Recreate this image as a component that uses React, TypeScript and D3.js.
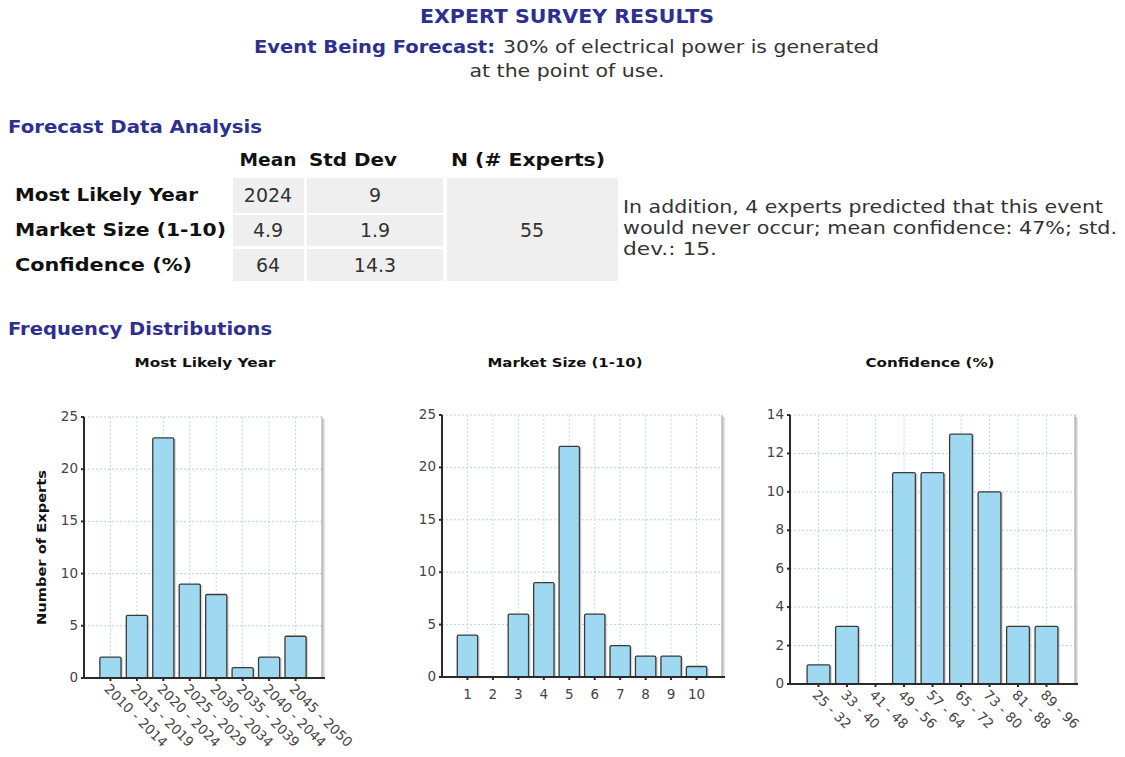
import React from "react";
import * as d3 from "d3";

const yearCats = ["2010 - 2014", "2015 - 2019", "2020 - 2024", "2025 - 2029", "2030 - 2034", "2035 - 2039", "2040 - 2044", "2045 - 2050"];
const yearVals = [2, 6, 23, 9, 8, 1, 2, 4];
const sizeCats = ["1", "2", "3", "4", "5", "6", "7", "8", "9", "10"];
const sizeVals = [4, 0, 6, 9, 22, 6, 3, 2, 2, 1];
const confCats = ["25 - 32", "33 - 40", "41 - 48", "49 - 56", "57 - 64", "65 - 72", "73 - 80", "81 - 88", "89 - 96"];
const confVals = [1, 3, 0, 11, 11, 13, 10, 3, 3];

const rowLabels = ["Most Likely Year", "Market Size (1-10)", "Confidence (%)"];
const means = ["2024", "4.9", "64"];
const stdDevs = ["9", "1.9", "14.3"];
const nExperts = "55";

const BLUE = "#2e2f8f";
const FONT = "'DejaVu Sans', Verdana, sans-serif";

type TProps = {
  x: number; y: number; w?: number; size: number; bold?: boolean; fill: string;
  anchor?: "start" | "middle" | "end"; transform?: string; children: React.ReactNode;
};
function T({ x, y, w, size, bold, fill, anchor = "start", transform, children }: TProps) {
  return (
    <text x={x} y={y} transform={transform} textAnchor={anchor} dominantBaseline="middle" fontFamily={FONT}
      fontWeight={bold ? "bold" : "normal"} fontSize={size} fill={fill}
      {...(w ? { textLength: w, lengthAdjust: "spacingAndGlyphs" } : {})}>
      {children}
    </text>
  );
}

type ChartProps = {
  cats: string[];
  vals: number[];
  x0: number; x1: number; top: number; bottom: number;
  yMax: number; yStep: number;
  rotate: boolean;
  title: string; titleX: number; titleW: number;
  yLabel?: string;
};

function BarChart(p: ChartProps) {
  const x = d3.scalePoint<string>().domain(p.cats).range([p.x0, p.x1]).padding(1);
  const y = d3.scaleLinear().domain([0, p.yMax]).range([p.bottom, p.top]);
  const ticks = d3.range(0, p.yMax + 0.001, p.yStep);
  const bw = x.step() * 0.8;
  return (
    <g>
      <T x={p.titleX} y={363} w={p.titleW} anchor="middle" bold size={13} fill="#111">{p.title}</T>
      {p.yLabel && (
        <T x={0} y={0} w={155} transform={`translate(${p.x0 - 42},${(p.top + p.bottom) / 2}) rotate(-90)`} anchor="middle" bold size={13} fill="#111">{p.yLabel}</T>
      )}
      {ticks.map((t) => (
        <line key={"h" + t} x1={p.x0} x2={p.x1} y1={y(t)} y2={y(t)} stroke="#b9d3e6" strokeWidth={1} strokeDasharray="2,2" />
      ))}
      {p.cats.map((c) => (
        <line key={"v" + c} x1={x(c)} x2={x(c)} y1={p.top} y2={p.bottom} stroke="#c4dbea" strokeWidth={1} strokeDasharray="2,2" />
      ))}
      <line x1={p.x1 + 1.5} x2={p.x1 + 1.5} y1={p.top + 2} y2={p.bottom} stroke="#d0d0d0" strokeWidth={2} />
      <line x1={p.x1} x2={p.x1} y1={p.top} y2={p.bottom} stroke="#999" strokeWidth={1} />
      {p.vals.map((v, i) => v > 0 && (
        <g key={"b" + i}>
          <rect x={(x(p.cats[i]) as number) - bw / 2 + 2} y={y(v) + 1} width={bw} height={p.bottom - y(v)} fill="#bdbdbd" opacity={0.6} />
          <rect x={(x(p.cats[i]) as number) - bw / 2} y={y(v)} width={bw} height={p.bottom - y(v)} rx={1.5} fill="#9fd9f1" stroke="#3a3a3a" strokeWidth={1.3} />
        </g>
      ))}
      <line x1={p.x0} x2={p.x0} y1={p.top} y2={p.bottom + 1} stroke="#2a2a2a" strokeWidth={2} />
      <line x1={p.x0 - 1} x2={p.x1 + 3} y1={p.bottom} y2={p.bottom} stroke="#2a2a2a" strokeWidth={2} />
      {ticks.map((t) => (
        <g key={"yt" + t}>
          <line x1={p.x0 - 3} x2={p.x0} y1={y(t)} y2={y(t)} stroke="#2a2a2a" strokeWidth={2} />
          <T x={p.x0 - 6} y={y(t)} anchor="end" size={13.5} fill="#444">{t}</T>
        </g>
      ))}
      {p.cats.map((c) => (
        <g key={"xt" + c}>
          <line x1={x(c)} x2={x(c)} y1={p.bottom} y2={p.bottom + 3} stroke="#2a2a2a" strokeWidth={2} />
          {p.rotate ? (
            <T x={0} y={0} transform={`translate(${(x(c) as number) - 4},${p.bottom + 9}) rotate(45)`} size={13.5} fill="#444">{c}</T>
          ) : (
            <T x={x(c) as number} y={p.bottom + 18} anchor="middle" size={13.5} fill="#444">{c}</T>
          )}
        </g>
      ))}
    </g>
  );
}

export default function App() {
  const cellBg = "#efefef";
  const rowsY = [196, 231, 266];
  const rowTops = [178, 215, 249];
  const rowBottoms = [213, 246, 281];
  const rowW = [183, 211, 177];
  return (
    <svg width={1125} height={757} style={{ position: "absolute", left: 0, top: 0 }}>
      <rect width={1125} height={757} fill="#fff" />
      <T x={567} y={17} w={294} anchor="middle" bold size={19} fill={BLUE}>EXPERT SURVEY RESULTS</T>
      <T x={254} y={48} w={241} bold size={18} fill={BLUE}>Event Being Forecast:</T>
      <T x={503} y={48} w={376} size={18} fill="#333">30% of electrical power is generated</T>
      <T x={567} y={72} w={195} anchor="middle" size={18} fill="#333">at the point of use.</T>

      <T x={8} y={128} w={254} bold size={18} fill={BLUE}>Forecast Data Analysis</T>

      <T x={268} y={161} w={57} anchor="middle" bold size={18} fill="#111">Mean</T>
      <T x={353} y={161} w={88} anchor="middle" bold size={18} fill="#111">Std Dev</T>
      <T x={528} y={161} w={154} anchor="middle" bold size={18} fill="#111">N (# Experts)</T>

      {rowLabels.map((l, i) => (
        <g key={l}>
          <rect x={233} y={rowTops[i]} width={71} height={rowBottoms[i] - rowTops[i]} fill={cellBg} />
          <rect x={307} y={rowTops[i]} width={136} height={rowBottoms[i] - rowTops[i]} fill={cellBg} />
          <T x={15} y={rowsY[i]} w={rowW[i]} bold size={18} fill="#111">{l}</T>
          <T x={268} y={rowsY[i]} anchor="middle" size={19} fill="#333">{means[i]}</T>
          <T x={375} y={rowsY[i]} anchor="middle" size={19} fill="#333">{stdDevs[i]}</T>
        </g>
      ))}
      <rect x={447} y={178} width={171} height={103} fill={cellBg} />
      <T x={532} y={231} anchor="middle" size={19} fill="#333">{nExperts}</T>

      <T x={623} y={208} w={480} size={18} fill="#333">In addition, 4 experts predicted that this event</T>
      <T x={623} y={229} w={494} size={18} fill="#333">would never occur; mean confidence: 47%; std.</T>
      <T x={623} y={250} w={94} size={18} fill="#333">dev.: 15.</T>

      <T x={8} y={330} w={264} bold size={18} fill={BLUE}>Frequency Distributions</T>

      <BarChart cats={yearCats} vals={yearVals} x0={84} x1={322} top={417} bottom={678} yMax={25} yStep={5} rotate={true} title="Most Likely Year" titleX={205} titleW={141} yLabel="Number of Experts" />
      <BarChart cats={sizeCats} vals={sizeVals} x0={442} x1={722} top={415} bottom={677} yMax={25} yStep={5} rotate={false} title="Market Size (1-10)" titleX={565} titleW={155} />
      <BarChart cats={confCats} vals={confVals} x0={790} x1={1075} top={415} bottom={684} yMax={14} yStep={2} rotate={true} title="Confidence (%)" titleX={930} titleW={129} />
    </svg>
  );
}
